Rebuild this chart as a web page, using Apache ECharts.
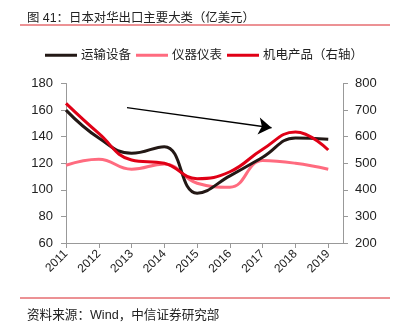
<!DOCTYPE html>
<html><head><meta charset="utf-8">
<script src="https://cdn.jsdelivr.net/npm/echarts@6/dist/echarts.min.js"></script>
<style>html,body{margin:0;padding:0;background:#fff}#c{width:408px;height:328px}</style>
</head><body><div id="c"></div>
<script>
const years = [2011, 2012, 2013, 2014, 2015, 2016, 2017, 2018, 2019];
const transport = [160, 139, 127.5, 132.5, 97.5, 110.5, 124.5, 139, 138];
const instruments = [118.5, 123, 115.5, 119.5, 105, 102, 122, 120, 115.5];
const electromech = [725, 612, 512, 500, 442, 468, 553, 618, 550];
const leftTicks = [60, 180, 20];
const rightTicks = [200, 800, 100];
const arrowStart = [2012.86, 161.8];
const arrowEnd = [2017.27, 146.7];

const font = 'Liberation Sans, Arial, Noto Sans CJK SC, sans-serif';
const chart = echarts.init(document.getElementById('c'));
const pair = (arr) => years.map((y, i) => [y, arr[i]]);
chart.setOption({
  animation: false,
  textStyle: { fontFamily: font },
  title: [
    { text: '图 41：日本对华出口主要大类（亿美元）', left: 22, top: 7,
      textStyle: { fontSize: 12.4, fontWeight: 'normal', color: '#222', fontFamily: font } },
    { text: '资料来源：Wind，中信证券研究部', left: 22, top: 304,
      textStyle: { fontSize: 12.6, fontWeight: 'normal', color: '#222', fontFamily: font } }
  ],
  graphic: [
    { type: 'line', shape: { x1: 20, y1: 25, x2: 390, y2: 25 }, style: { stroke: '#d9242b', lineWidth: 1 } },
    { type: 'line', shape: { x1: 20, y1: 298, x2: 390, y2: 298 }, style: { stroke: '#d9242b', lineWidth: 1 } }
  ],
  legend: {
    top: 44, left: 'center', icon: 'rect', itemWidth: 32, itemHeight: 3, itemGap: 5,
    textStyle: { fontSize: 12.5, color: '#222', padding: [0, 0, 0, -1] },
    data: ['运输设备', '仪器仪表', '机电产品（右轴）']
  },
  grid: { left: 66, right: 65, top: 83.5, bottom: 85, containLabel: false },
  xAxis: {
    type: 'value', min: 2011, max: 2019.45, interval: 1,
    axisLine: { lineStyle: { color: '#999' } },
    axisTick: { show: true, length: 5, lineStyle: { color: '#999' }, customValues: years },
    splitLine: { show: false },
    axisLabel: { rotate: 45, fontSize: 12, color: '#222', margin: 9, customValues: years,
      formatter: v => String(v) }
  },
  yAxis: [
    { type: 'value', min: leftTicks[0], max: leftTicks[1], interval: leftTicks[2],
      axisLine: { show: true, lineStyle: { color: '#999' } },
      axisTick: { show: true, length: 5, inside: false, lineStyle: { color: '#999' } },
      splitLine: { show: false },
      axisLabel: { fontSize: 13, color: '#222', margin: 13 } },
    { type: 'value', min: rightTicks[0], max: rightTicks[1], interval: rightTicks[2], position: 'right',
      axisLine: { show: true, lineStyle: { color: '#999' } },
      axisTick: { show: true, length: 5, lineStyle: { color: '#999' } },
      splitLine: { show: false },
      axisLabel: { fontSize: 13, color: '#222', margin: 12 } }
  ],
  series: [
    { name: '运输设备', type: 'line', smooth: 0.45, showSymbol: false, data: pair(transport),
      color: '#231815', lineStyle: { width: 3 }, z: 3,
      markLine: { silent: true, symbol: ['none', 'arrow'], symbolSize: [13, 13], label: { show: false },
        lineStyle: { color: '#000', width: 1.3, type: 'solid' },
        data: [[{ coord: arrowStart }, { coord: arrowEnd }]] } },
    { name: '仪器仪表', type: 'line', smooth: 0.45, showSymbol: false, data: pair(instruments),
      color: '#ff6b7f', lineStyle: { width: 3 }, z: 2 },
    { name: '机电产品（右轴）', type: 'line', yAxisIndex: 1, smooth: 0.45, showSymbol: false, data: pair(electromech),
      color: '#e00016', lineStyle: { width: 3 }, z: 4 }
  ]
});
</script></body></html>
